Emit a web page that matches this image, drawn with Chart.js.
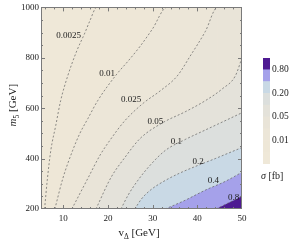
<!DOCTYPE html>
<html>
<head>
<meta charset="utf-8">
<script src="https://cdn.jsdelivr.net/npm/chart.js@4/dist/chart.umd.min.js"></script>
<style>
  body { margin: 0; background: #fff; }
  #main { position: absolute; left: 0; top: 0; }
  #bar { position: absolute; left: 250px; top: 50px; }
</style>
</head>
<body>
<canvas id="main" width="304" height="242"></canvas>
<canvas id="bar" width="54" height="135"></canvas>
<script>
// contour levels of sigma [fb]
var levels = [0.0025, 0.01, 0.025, 0.05, 0.1, 0.2, 0.4, 0.8];
var levelText = ["0.0025", "0.01", "0.025", "0.05", "0.1", "0.2", "0.4", "0.8"];

// contour lines, v_Delta [GeV] and m5 [GeV]
var c0025_v = [5.8, 6.4, 7.2, 8.3, 9.4, 11.0, 13.0, 14.8, 15.9, 17.5];
var c0025_m = [200, 314, 433, 531, 630, 729, 827, 898, 945, 1000];
var c001_v = [8.1, 9.9, 12.1, 13.7, 15.5, 17.7, 22.0, 24.5, 27.2, 29.9, 33.2];
var c001_m = [200, 322, 433, 500, 559, 630, 736, 787, 846, 913, 1000];
var c0025b_v = [11.9, 15.5, 18.2, 20.4, 23.8, 27.9, 31.7, 35.5, 38.4, 41.8, 44.5];
var c0025b_m = [200, 322, 413, 472, 551, 620, 669, 728, 807, 905, 1000];
var c005_v = [17.3, 20.7, 23.8, 27.2, 32.3, 37.3, 41.8, 45.6, 48.5, 50];
var c005_m = [200, 326, 405, 480, 543, 586, 630, 677, 728, 800];
var c01_v = [22.9, 24.5, 26.7, 29.4, 32.8, 37.3, 41.0, 44.5, 50];
var c01_m = [200, 255, 314, 373, 432, 476, 507, 536, 582];
var c02_v = [26.0, 27.5, 29.5, 32.5, 36.0, 40.0, 44.0, 47.0, 50];
var c02_m = [200, 240, 275, 310, 342, 372, 400, 422, 444];
var c04_v = [32.8, 37.3, 41.8, 46.3, 50];
var c04_m = [200, 235, 275, 310, 346];
var c08_v = [44.2, 47.4, 50];
var c08_m = [200, 228, 251];

// where the contour labels sit
var labelV = [11.2, 19.8, 25.2, 30.6, 35.3, 40.2, 43.6, 48.1];
var labelM = [886, 736, 634, 547, 468, 389, 314, 247];

// region colours, lowest sigma first
var regionColors = ["#efe8d8", "#eee7d7", "#ece6d8", "#e9e4d8", "#e4e2da", "#dcdfdd", "#c9d9e5", "#a5a1ea", "#4e1a92"];

// colour bar ticks
var barTickPos = [2, 4, 6, 8];
var barTickText = ["0.01", "0.05", "0.20", "0.80"];

var serif = '"Liberation Serif", "Times New Roman", serif';

function contourPoints(vs, ms) {
  var pts = vs.map(function (v, i) { return {x: v, y: ms[i]}; });
  // close along the top edge so the fill covers the region to the right
  if (ms[ms.length - 1] === 1000) pts.push({x: 50, y: 1000});
  return pts;
}

var contours = [
  [c0025_v, c0025_m], [c001_v, c001_m], [c0025b_v, c0025b_m], [c005_v, c005_m],
  [c01_v, c01_m], [c02_v, c02_m], [c04_v, c04_m], [c08_v, c08_m]
];

var datasets = contours.map(function (c, i) {
  return {
    data: contourPoints(c[0], c[1]),
    fill: 'start',
    backgroundColor: regionColors[i + 1],
    borderColor: '#606060',
    borderWidth: 0.7,
    borderDash: [2, 2],
    pointRadius: 0,
    cubicInterpolationMode: 'monotone',
    order: levels.length - i,
    segment: {
      borderColor: function (ctx) {
        return (ctx.p0.parsed.y === 1000 && ctx.p1.parsed.y === 1000) ? 'rgba(0,0,0,0)' : undefined;
      }
    }
  };
});

function drawPieces(g, pieces, cx, y) {
  var w = 0;
  pieces.forEach(function (p) { g.font = p[1]; w += g.measureText(p[0]).width; });
  var x = cx - w / 2;
  pieces.forEach(function (p) {
    g.font = p[1];
    g.fillText(p[0], x, y + p[2]);
    x += g.measureText(p[0]).width;
  });
}

var plotBackground = {
  id: 'plotBackground',
  beforeDatasetsDraw: function (chart) {
    var a = chart.chartArea, g = chart.ctx;
    g.save();
    g.fillStyle = regionColors[0];
    g.fillRect(a.left, a.top, a.right - a.left, a.bottom - a.top);
    g.restore();
  }
};

var frameAndLabels = {
  id: 'frameAndLabels',
  afterDatasetsDraw: function (chart) {
    var a = chart.chartArea, sx = chart.scales.x, sy = chart.scales.y, g = chart.ctx;
    g.save();
    // contour labels
    g.fillStyle = '#222';
    g.font = '9px ' + serif;
    g.textAlign = 'center';
    g.textBaseline = 'middle';
    for (var i = 0; i < levelText.length; i++) {
      g.fillText(levelText[i], sx.getPixelForValue(labelV[i]), sy.getPixelForValue(labelM[i]));
    }
    // frame
    g.strokeStyle = '#7a7a7a';
    g.lineWidth = 1;
    g.strokeRect(Math.round(a.left) + 0.5, Math.round(a.top) + 0.5,
      Math.round(a.right - a.left) - 1, Math.round(a.bottom - a.top) - 1);
    g.beginPath();
    for (var v = 6; v < 50; v += 2) {
      var len = v % 10 === 0 ? 4 : 2;
      var px = Math.round(sx.getPixelForValue(v)) + 0.5;
      g.moveTo(px, a.bottom); g.lineTo(px, a.bottom - len);
      g.moveTo(px, a.top); g.lineTo(px, a.top + len);
    }
    for (var m = 250; m < 1000; m += 50) {
      var l2 = m % 200 === 0 ? 4 : 2;
      var py = Math.round(sy.getPixelForValue(m)) + 0.5;
      g.moveTo(a.left, py); g.lineTo(a.left + l2, py);
      g.moveTo(a.right, py); g.lineTo(a.right - l2, py);
    }
    g.stroke();
    g.restore();
  },
  afterDraw: function (chart) {
    var a = chart.chartArea, g = chart.ctx;
    g.save();
    g.fillStyle = '#222';
    g.textBaseline = 'alphabetic';
    drawPieces(g, [
      ['v', '11px ' + serif, 0],
      ['\u0394', '7.5px ' + serif, 2.5],
      [' [GeV]', '11px ' + serif, 0]
    ], 139, 236);
    g.translate(16, (a.top + a.bottom) / 2 - 3);
    g.rotate(-Math.PI / 2);
    drawPieces(g, [
      ['m', 'italic 11px ' + serif, 0],
      ['5', '7.5px ' + serif, 2.5],
      [' [GeV]', '11px ' + serif, 0]
    ], 0, 0);
    g.restore();
  }
};

new Chart(document.getElementById('main').getContext('2d'), {
  type: 'line',
  data: {datasets: datasets},
  options: {
    responsive: false,
    animation: false,
    devicePixelRatio: 1,
    layout: {padding: {left: 0, right: 62, top: 6, bottom: 0}},
    plugins: {legend: {display: false}, tooltip: {enabled: false}},
    scales: {
      x: {
        type: 'linear', min: 5, max: 50,
        afterBuildTicks: function (s) { s.ticks = [10, 20, 30, 40, 50].map(function (v) { return {value: v}; }); },
        afterFit: function (s) { s.height = 33; },
        grid: {display: false, drawTicks: false},
        border: {display: false},
        ticks: {font: {family: serif, size: 9}, color: '#222', padding: 4, maxRotation: 0,
          callback: function (v) { return String(v); }}
      },
      y: {
        type: 'linear', min: 200, max: 1000,
        ticks: {stepSize: 200, font: {family: serif, size: 9}, color: '#222', padding: 2,
          callback: function (v) { return String(v); }},
        afterFit: function (s) { s.width = 41; },
        grid: {display: false, drawTicks: false},
        border: {display: false}
      }
    }
  },
  plugins: [plotBackground, frameAndLabels]
});

// colour bar
var barTitle = {
  id: 'barTitle',
  afterDraw: function (chart) {
    var g = chart.ctx, a = chart.chartArea;
    g.save();
    g.fillStyle = '#222';
    g.textBaseline = 'alphabetic';
    g.textAlign = 'left';
    g.font = 'italic 10px ' + serif;
    var x = a.left - 2;
    g.fillText('\u03c3', x, a.bottom + 15);
    x += g.measureText('\u03c3').width;
    g.font = '10px ' + serif;
    g.fillText(' [fb]', x, a.bottom + 15);
    g.restore();
  }
};

new Chart(document.getElementById('bar').getContext('2d'), {
  type: 'bar',
  data: {
    labels: [''],
    datasets: regionColors.map(function (c) {
      return {data: [1], backgroundColor: c, barPercentage: 1, categoryPercentage: 1, borderWidth: 0};
    })
  },
  options: {
    responsive: false,
    animation: false,
    devicePixelRatio: 1,
    layout: {padding: {left: 13, right: 0, top: 8, bottom: 21}},
    plugins: {legend: {display: false}, tooltip: {enabled: false}},
    scales: {
      x: {stacked: true, display: false},
      y: {
        stacked: true, position: 'right', min: 0, max: 9,
        afterBuildTicks: function (s) { s.ticks = barTickPos.map(function (v) { return {value: v}; }); },
        afterFit: function (s) { s.width = 34; },
        ticks: {
          font: {family: serif, size: 9.5}, color: '#222', padding: 2,
          callback: function (v) { return barTickText[barTickPos.indexOf(v)]; }
        },
        grid: {display: false, drawTicks: false},
        border: {display: false}
      }
    }
  },
  plugins: [barTitle]
});
</script>
</body>
</html>
